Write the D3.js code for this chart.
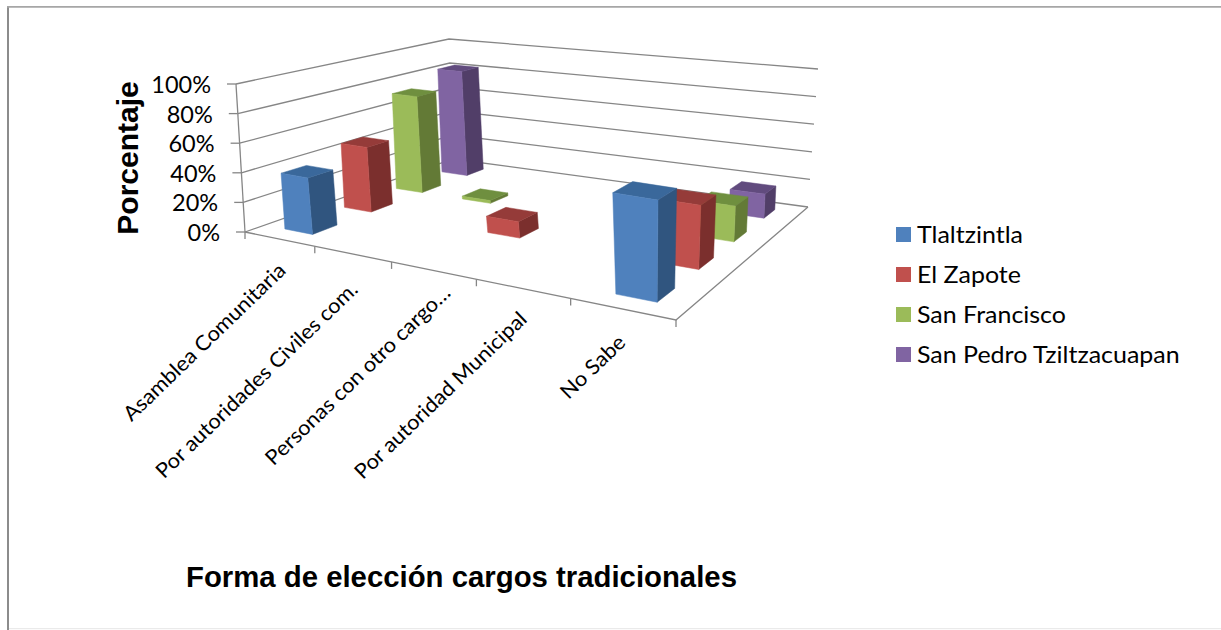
<!DOCTYPE html>
<html><head><meta charset="utf-8">
<script src="https://cdnjs.cloudflare.com/ajax/libs/d3/7.8.5/d3.min.js"></script>
<style>html,body{margin:0;padding:0;background:#fff}svg{display:block}</style>
</head><body><svg id="c" width="1221" height="630"></svg>
<script>
const categories = ["Asamblea Comunitaria","Por autoridades Civiles com.","Personas con otro cargo…","Por autoridad Municipal","No Sabe"];
const seriesNames = ["Tlaltzintla","El Zapote","San Francisco","San Pedro Tziltzacuapan"];
const tlaltzintla = [38,0,0,0,62];
const elZapote = [46,0,11,0,41];
const sanFrancisco = [72,2,0,0,24];
const sanPedro = [82,0,0,0,17];
const seriesValues = [tlaltzintla,elZapote,sanFrancisco,sanPedro];
const tickValues = [0,20,40,60,80,100];
const palette = [
 {front:"#4F81BD",side:"#30557F",top:"#3A689B"},
 {front:"#C0504D",side:"#7B2F2D",top:"#953B39"},
 {front:"#9BBB59",side:"#637A36",top:"#6F8F3F"},
 {front:"#8064A2",side:"#513E68",top:"#614B7E"}];

// Projection: unit square (t along categories, z along series) to a screen quad
function quad(A,B,C,D){
  const dx1=[B[0]-C[0],B[1]-C[1]],dx2=[D[0]-C[0],D[1]-C[1]];
  const s=[A[0]-B[0]+C[0]-D[0],A[1]-B[1]+C[1]-D[1]];
  const det=dx1[0]*dx2[1]-dx1[1]*dx2[0];
  const g=(s[0]*dx2[1]-s[1]*dx2[0])/det,h=(dx1[0]*s[1]-dx1[1]*s[0])/det;
  return (t,z)=>{
    const w=g*t+h*z+1;
    return [((B[0]-A[0]+g*B[0])*t+(D[0]-A[0]+h*D[0])*z+A[0])/w,
            ((B[1]-A[1]+g*B[1])*t+(D[1]-A[1]+h*D[1])*z+A[1])/w];
  };
}
const floor=quad([245,232],[676,320],[808,207],[453,159]);
const ceil =quad([236,84],[682,152],[818,69],[449,39]);
const yFrac=d3.scaleLinear().domain([0,100]).range([0,1]);
const proj=(t,z,v)=>{
  const a=floor(t,z),b=ceil(t,z),f=yFrac(v);
  return [a[0]+(b[0]-a[0])*f,a[1]+(b[1]-a[1])*f];
};
const tScale=d3.scaleBand().domain(categories).range([0,1]).paddingInner(.6).paddingOuter(.3);
const zScale=d3.scaleBand().domain(seriesNames).range([0,1]).paddingInner(.6).paddingOuter(.3);
const line=d3.line();

const svg=d3.select("#c");
const GRID="#868686";
// frame
svg.append("path").attr("d","M8,630V6").attr("fill","none").attr("stroke","#8c8c8c").attr("stroke-width",2);
svg.append("path").attr("d","M7,6.8H1221").attr("fill","none").attr("stroke","#a6a6a6").attr("stroke-width",1.7);
svg.append("path").attr("d","M9,628.7H1221").attr("fill","none").attr("stroke","#e6e6e6").attr("stroke-width",1);

// gridlines
tickValues.forEach(v=>{
  svg.append("path").attr("fill","none").attr("stroke",GRID).attr("stroke-width",1.3)
    .attr("d",line([proj(0,0,v),proj(0,1,v),proj(1,1,v)]));
});
// vertical axis
svg.append("path").attr("fill","none").attr("stroke",GRID).attr("stroke-width",1.3)
  .attr("d",line([proj(0,0,0),proj(0,0,100)]));
tickValues.forEach(v=>{
  const p=proj(0,0,v);
  svg.append("path").attr("stroke",GRID).attr("stroke-width",1.3).attr("d",line([[p[0]-9,p[1]],p]));
  svg.append("text").attr("x",p[0]-25).attr("y",p[1]+9).attr("text-anchor","end")
    .attr("font-family","Lato").attr("font-size",23.5).attr("fill","#000").text(v+"%");
});
// floor front and right edge
svg.append("path").attr("fill","none").attr("stroke",GRID).attr("stroke-width",1.3)
  .attr("d",line([proj(0,0,0),proj(1,0,0),proj(1,1,0)]));
// category ticks
d3.range(categories.length+1).forEach(i=>{
  const p=proj(i/categories.length,0,0);
  svg.append("path").attr("stroke",GRID).attr("stroke-width",1.3).attr("d",line([p,[p[0],p[1]+7]]));
});
// category labels
const labelNudge=[[8,33],[7,37],[19,24],[6,32],[5,35]];
categories.forEach((c,i)=>{
  const p=proj(tScale(c)+tScale.bandwidth()/2,0,0);
  const x=p[0]+labelNudge[i][0],y=p[1]+labelNudge[i][1];
  svg.append("text").attr("transform",`translate(${x},${y}) rotate(-44) scale(1.06,1)`).attr("text-anchor","end")
    .attr("font-family","Lato").attr("font-size",20.7).attr("fill","#000").text(c);
});
// bars, back to front
d3.range(seriesNames.length-1,-1,-1).forEach(j=>{
  categories.forEach((c,i)=>{
    const v=seriesValues[j][i];
    if(!v) return;
    const t0=tScale(c),t1=t0+tScale.bandwidth();
    const z0=zScale(seriesNames[j]),z1=z0+zScale.bandwidth();
    const col=palette[j];
    const face=(pts,fill)=>svg.append("path").attr("fill",fill).attr("stroke",fill).attr("stroke-width",.5).attr("d",line(pts)+"Z");
    face([proj(t1,z0,0),proj(t1,z1,0),proj(t1,z1,v),proj(t1,z0,v)],col.side);
    face([proj(t0,z0,v),proj(t1,z0,v),proj(t1,z1,v),proj(t0,z1,v)],col.top);
    face([proj(t0,z0,0),proj(t1,z0,0),proj(t1,z0,v),proj(t0,z0,v)],col.front);
  });
});
// legend
const legendY=d3.scalePoint().domain(seriesNames).range([235,355]);
seriesNames.forEach((s,j)=>{
  const y=legendY(s);
  svg.append("rect").attr("x",896).attr("y",y-8).attr("width",15).attr("height",15).attr("fill",palette[j].front);
  svg.append("text").attr("transform",`translate(917,${y+8}) scale(1.1,1)`).attr("font-family","Lato").attr("font-size",22.7).attr("fill","#000").text(s);
});
// titles
svg.append("text").attr("transform","translate(138,158) rotate(-90)").attr("text-anchor","middle")
  .attr("font-family","Liberation Sans").attr("font-weight","bold").attr("font-size",30).attr("fill","#000").text("Porcentaje");
svg.append("text").attr("transform","translate(186,587) scale(1.012,1)")
  .attr("font-family","Liberation Sans").attr("font-weight","bold").attr("font-size",29).attr("fill","#000").text("Forma de elección cargos tradicionales");
</script></body></html>
